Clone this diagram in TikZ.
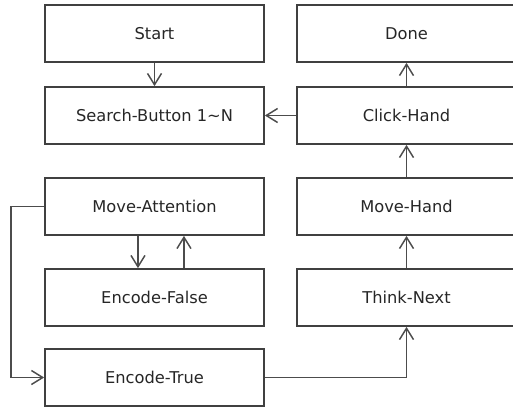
\documentclass[tikz,border=0pt]{standalone}
\usepackage{fontspec}
\setmainfont{DejaVu Sans}
\usetikzlibrary{arrows.meta}

\begin{document}
\begin{tikzpicture}[x=0.75pt, y=-0.75pt,
  stepbox/.style={draw=black!75, line width=1.3pt, minimum width=164.25pt,
    minimum height=42.75pt, inner sep=0pt, text=black!85,
    font=\fontsize{12.2}{14}\selectfont},
  arr/.style={draw=black!70, line width=1.2pt,
    -{Straight Barb[length=8.5pt, width=10.5pt, line width=1.1pt]}}]
% Frame
\clip (0,0) rectangle (513,407);

% Left column
\node[stepbox] (start) at (154.5, 33.5) {Start};
\node[stepbox] (search) at (154.5, 115.5) {Search-Button 1\textasciitilde N};
\node[stepbox] (matt) at (154.5, 206.5) {Move-Attention};
\node[stepbox] (encf) at (154.5, 297.5) {Encode-False};
\node[stepbox] (enct) at (154.5, 377.5) {Encode-True};

% Right column
\node[stepbox] (done) at (406.5, 33.5) {Done};
\node[stepbox] (click) at (406.5, 115.5) {Click-Hand};
\node[stepbox] (mvh) at (406.5, 206.5) {Move-Hand};
\node[stepbox] (thnk) at (406.5, 297.5) {Think-Next};

% Flow
\draw[arr] (start) -- (search);
\draw[arr] ([xshift=-12.4pt]matt.south) -- ([xshift=-12.4pt]encf.north);
\draw[arr] ([xshift=22.1pt]encf.north) -- ([xshift=22.1pt]matt.south);
\draw[arr] (matt.west) -- ++(-33,0) |- (enct.west);
\draw[arr] (enct.east) -| (thnk.south);
\draw[arr] (thnk) -- (mvh);
\draw[arr] (mvh) -- (click);
\draw[arr] (click) -- (done);
\draw[arr] (click) -- (search);
\end{tikzpicture}
\end{document}
